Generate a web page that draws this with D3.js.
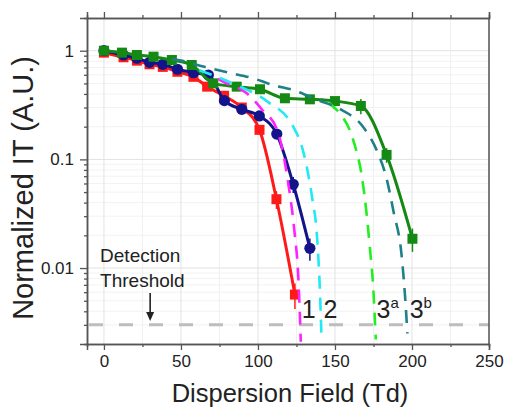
<!DOCTYPE html>
<html><head><meta charset="utf-8">
<script src="https://cdn.jsdelivr.net/npm/d3@7"></script>
<style>body{margin:0;background:#fff}svg{display:block}text{font-family:"Liberation Sans",Arial,sans-serif}</style>
</head><body><svg id="c" width="508" height="409"></svg>
<script>
// ---- data ----
const xTicks = [0, 50, 100, 150, 200, 250];
const xMinorTicks = [25, 75, 125, 175, 225];
const yTicks = [1, 0.1, 0.01];
const yTickLabels = ["1", "0.1", "0.01"];
const threshold = 0.003;
const thresholdArrowX = 30;

// series 1 (red squares)
const s1X = [0, 12.7, 21.4, 29.6, 38.2, 47.7, 58.1, 67, 78, 89.5, 101, 112, 124];
const s1Y = [0.96, 0.87, 0.81, 0.75, 0.71, 0.64, 0.575, 0.467, 0.385, 0.30, 0.187, 0.043, 0.0057];
const s1Err = [0, 0, 0, 0, 0, 0, 0, 0, 0, 0, 0, 0.008, 0.0015];
// series 2 (navy circles)
const s2X = [0, 12.7, 21.4, 29.6, 38.2, 47.7, 58.1, 67.8, 78.2, 89.5, 100.9, 112.2, 122.9, 133.7];
const s2Y = [1.0, 0.913, 0.852, 0.782, 0.75, 0.675, 0.628, 0.598, 0.347, 0.289, 0.251, 0.171, 0.059, 0.0152];
const s2Err = [0, 0, 0, 0, 0, 0, 0, 0, 0, 0, 0, 0, 0.01, 0.0035];
// series 3 (green squares)
const s3X = [0, 11.7, 21.4, 32.2, 44.1, 57, 71, 86.2, 101.3, 117.5, 133.7, 150, 166.8, 183.5, 200.3];
const s3Y = [1.0, 0.96, 0.913, 0.881, 0.821, 0.739, 0.501, 0.467, 0.442, 0.365, 0.357, 0.344, 0.31, 0.11, 0.0186];
const s3Err = [0, 0, 0, 0, 0, 0, 0, 0, 0, 0, 0, 0, 0.05, 0.017, 0.0045];

// dashed model curves
const m1X = [74, 77.3, 92.7, 102.3, 112.7, 120, 123.5, 126.5, 127.8];
const m1Y = [0.55, 0.519, 0.406, 0.291, 0.182, 0.056, 0.023, 0.0067, 0.0021];
const m2X = [62, 64.5, 85, 106.2, 122.9, 129.4, 135.4, 138.1, 140.2, 141.3];
const m2Y = [0.66, 0.641, 0.49, 0.34, 0.2, 0.118, 0.0423, 0.0216, 0.0063, 0.0022];
const m3aX = [146, 148.9, 153.2, 161.8, 167.8, 170.5, 172.6, 174.8, 176.5];
const m3aY = [0.335, 0.305, 0.265, 0.151, 0.0646, 0.0319, 0.0157, 0.0067, 0.0022];
const m3bX = [44, 48.2, 65.7, 81.9, 96.1, 109.8, 122.7, 138.9, 154.3, 167.3, 177, 183.5, 188.2, 193.1, 196.3, 197];
const m3bY = [0.84, 0.821, 0.708, 0.624, 0.561, 0.483, 0.435, 0.352, 0.285, 0.207, 0.122, 0.0667, 0.0321, 0.0137, 0.0037, 0.0025];

const curveLabels = [
  {t: "1", sup: "", x: 128.5},
  {t: "2", sup: "", x: 142.5},
  {t: "3", sup: "a", x: 177},
  {t: "3", sup: "b", x: 198.5}
];
const curveLabelY = 0.0033;

// ---- layout ----
const W = 508, H = 409;
const m = {l: 87, r: 19, t: 18, b: 65};
const svg = d3.select("#c");
const x = d3.scaleLinear().domain([-11, 250]).range([m.l, W - m.r]);
const y = d3.scaleLog().domain([0.002, 2]).range([H - m.b, m.t]);
const axisColor = "#555";

// grid
const g = svg.append("g");
const yMinor = [];
[0.001, 0.01, 0.1, 1].forEach(d => { for (let k = 2; k <= 9; k++) { const v = d * k; if (v > 0.002 && v < 2) yMinor.push(v); } });
g.selectAll(".ymg").data(yMinor).join("line")
  .attr("x1", x.range()[0]).attr("x2", x.range()[1])
  .attr("y1", d => y(d)).attr("y2", d => y(d))
  .attr("stroke", "#f2f2f2").attr("stroke-width", 1);
g.selectAll(".xmg").data(xMinorTicks).join("line")
  .attr("x1", d => x(d)).attr("x2", d => x(d))
  .attr("y1", y.range()[0]).attr("y2", y.range()[1])
  .attr("stroke", "#f0f0f0").attr("stroke-width", 1);
g.selectAll(".xg").data(xTicks).join("line")
  .attr("x1", d => x(d)).attr("x2", d => x(d))
  .attr("y1", y.range()[0]).attr("y2", y.range()[1])
  .attr("stroke", "#e2e2e2").attr("stroke-width", 1);
g.selectAll(".yg").data(yTicks).join("line")
  .attr("x1", x.range()[0]).attr("x2", x.range()[1])
  .attr("y1", d => y(d)).attr("y2", d => y(d))
  .attr("stroke", "#e2e2e2").attr("stroke-width", 1);

// threshold
svg.append("line")
  .attr("x1", x.range()[0]).attr("x2", x.range()[1])
  .attr("y1", y(threshold)).attr("y2", y(threshold))
  .attr("stroke", "#bdbdbd").attr("stroke-width", 3).attr("stroke-dasharray", "14,16")
  .attr("stroke-dashoffset", -2);

// axes
svg.append("g").attr("transform", `translate(0,${H - m.b})`)
  .call(d3.axisBottom(x).tickValues(xTicks).tickSize(6).tickPadding(5).tickFormat(d3.format("d")));
svg.append("g").attr("transform", `translate(0,${H - m.b})`)
  .call(d3.axisBottom(x).tickValues(xMinorTicks).tickSize(3).tickFormat(""));
svg.append("g").attr("transform", `translate(0,${m.t})`)
  .call(d3.axisTop(x).tickValues(xTicks).tickSize(6).tickFormat(""));
svg.append("g").attr("transform", `translate(0,${m.t})`)
  .call(d3.axisTop(x).tickValues(xMinorTicks).tickSize(3).tickFormat(""));
svg.append("g").attr("transform", `translate(${m.l},0)`)
  .call(d3.axisLeft(y).tickValues(yTicks).tickSize(7).tickPadding(6).tickFormat((d, i) => yTickLabels[i]));
svg.append("g").attr("transform", `translate(${m.l},0)`)
  .call(d3.axisLeft(y).tickValues(yMinor).tickSize(3).tickFormat(""));
svg.append("line").attr("x1", W - m.r).attr("x2", W - m.r).attr("y1", m.t).attr("y2", H - m.b)
  .attr("stroke", axisColor).attr("stroke-width", 1.5);
svg.selectAll(".domain").attr("stroke", axisColor).attr("stroke-width", 1.5);
svg.selectAll(".tick line").attr("stroke", axisColor).attr("stroke-width", 1.3);
svg.selectAll(".tick text").attr("font-size", 17).attr("fill", "#222")
  .attr("font-family", "Liberation Sans, Arial, sans-serif");

// axis titles
svg.append("text").attr("x", (x(-11) + x(250)) / 2 + 2).attr("y", 402)
  .attr("text-anchor", "middle").attr("font-size", 25.5).attr("fill", "#222")
  .text("Dispersion Field (Td)");
svg.append("text").attr("transform", `translate(33,188) rotate(-90)`)
  .attr("text-anchor", "middle").attr("font-size", 29).attr("fill", "#222")
  .text("Normalized IT (A.U.)");

// lines
const solid = d3.line().x(d => x(d[0])).y(d => y(d[1])).curve(d3.curveMonotoneX);
const zip = (a, b) => a.map((v, i) => [v, b[i]]);

const series = [
  {X: s1X, Y: s1Y, E: s1Err, c: "#ff1a1a", shape: "sq"},
  {X: s2X, Y: s2Y, E: s2Err, c: "#14148a", shape: "ci"},
  {X: s3X, Y: s3Y, E: s3Err, c: "#148a14", shape: "sq"}
];
const models = [
  {X: m1X, Y: m1Y, c: "#ff22ff"},
  {X: m2X, Y: m2Y, c: "#22eaf2"},
  {X: m3aX, Y: m3aY, c: "#22ee22"},
  {X: m3bX, Y: m3bY, c: "#1f8088"}
];

series.forEach(s => {
  svg.append("path").attr("d", solid(zip(s.X, s.Y))).attr("fill", "none")
    .attr("stroke", s.c).attr("stroke-width", 3);
  const pts = zip(s.X, s.Y).map((p, i) => ({x: p[0], y: p[1], e: s.E[i]}));
  svg.append("g").selectAll("line").data(pts.filter(p => p.e > 0)).join("line")
    .attr("x1", p => x(p.x)).attr("x2", p => x(p.x))
    .attr("y1", p => y(p.y + p.e)).attr("y2", p => y(Math.max(p.y - p.e, 0.0021)))
    .attr("stroke", s.c).attr("stroke-width", 1.5);
  const gg = svg.append("g");
  if (s.shape === "sq") {
    gg.selectAll("rect").data(pts).join("rect")
      .attr("x", p => x(p.x) - 5).attr("y", p => y(p.y) - 5)
      .attr("width", 10).attr("height", 10).attr("fill", s.c);
  } else {
    gg.selectAll("circle").data(pts).join("circle")
      .attr("cx", p => x(p.x)).attr("cy", p => y(p.y)).attr("r", 5.6).attr("fill", s.c);
  }
});
models.forEach(md => {
  svg.append("path").attr("d", solid(zip(md.X, md.Y))).attr("fill", "none")
    .attr("stroke", md.c).attr("stroke-width", 2.6).attr("stroke-dasharray", "13,9");
});

// curve labels
curveLabels.forEach(l => {
  const t = svg.append("text").attr("x", x(l.x)).attr("y", y(curveLabelY) - 2)
    .attr("font-size", 25).attr("fill", "#222").text(l.t);
  if (l.sup) t.append("tspan").attr("dy", -10).attr("font-size", 15).text(l.sup);
});

// detection threshold text + arrow
const dt = svg.append("text").attr("font-size", 19).attr("fill", "#222");
dt.append("tspan").attr("x", x(-2.5)).attr("y", 262).text("Detection");
dt.append("tspan").attr("x", x(-2.5)).attr("y", 287).text("Threshold");
const ax = x(thresholdArrowX);
svg.append("line").attr("x1", ax).attr("x2", ax).attr("y1", 293).attr("y2", 314)
  .attr("stroke", "#222").attr("stroke-width", 1.6);
svg.append("path").attr("d", `M${ax - 4},${312} L${ax + 4},${312} L${ax},${321} Z`).attr("fill", "#222");
</script></body></html>
